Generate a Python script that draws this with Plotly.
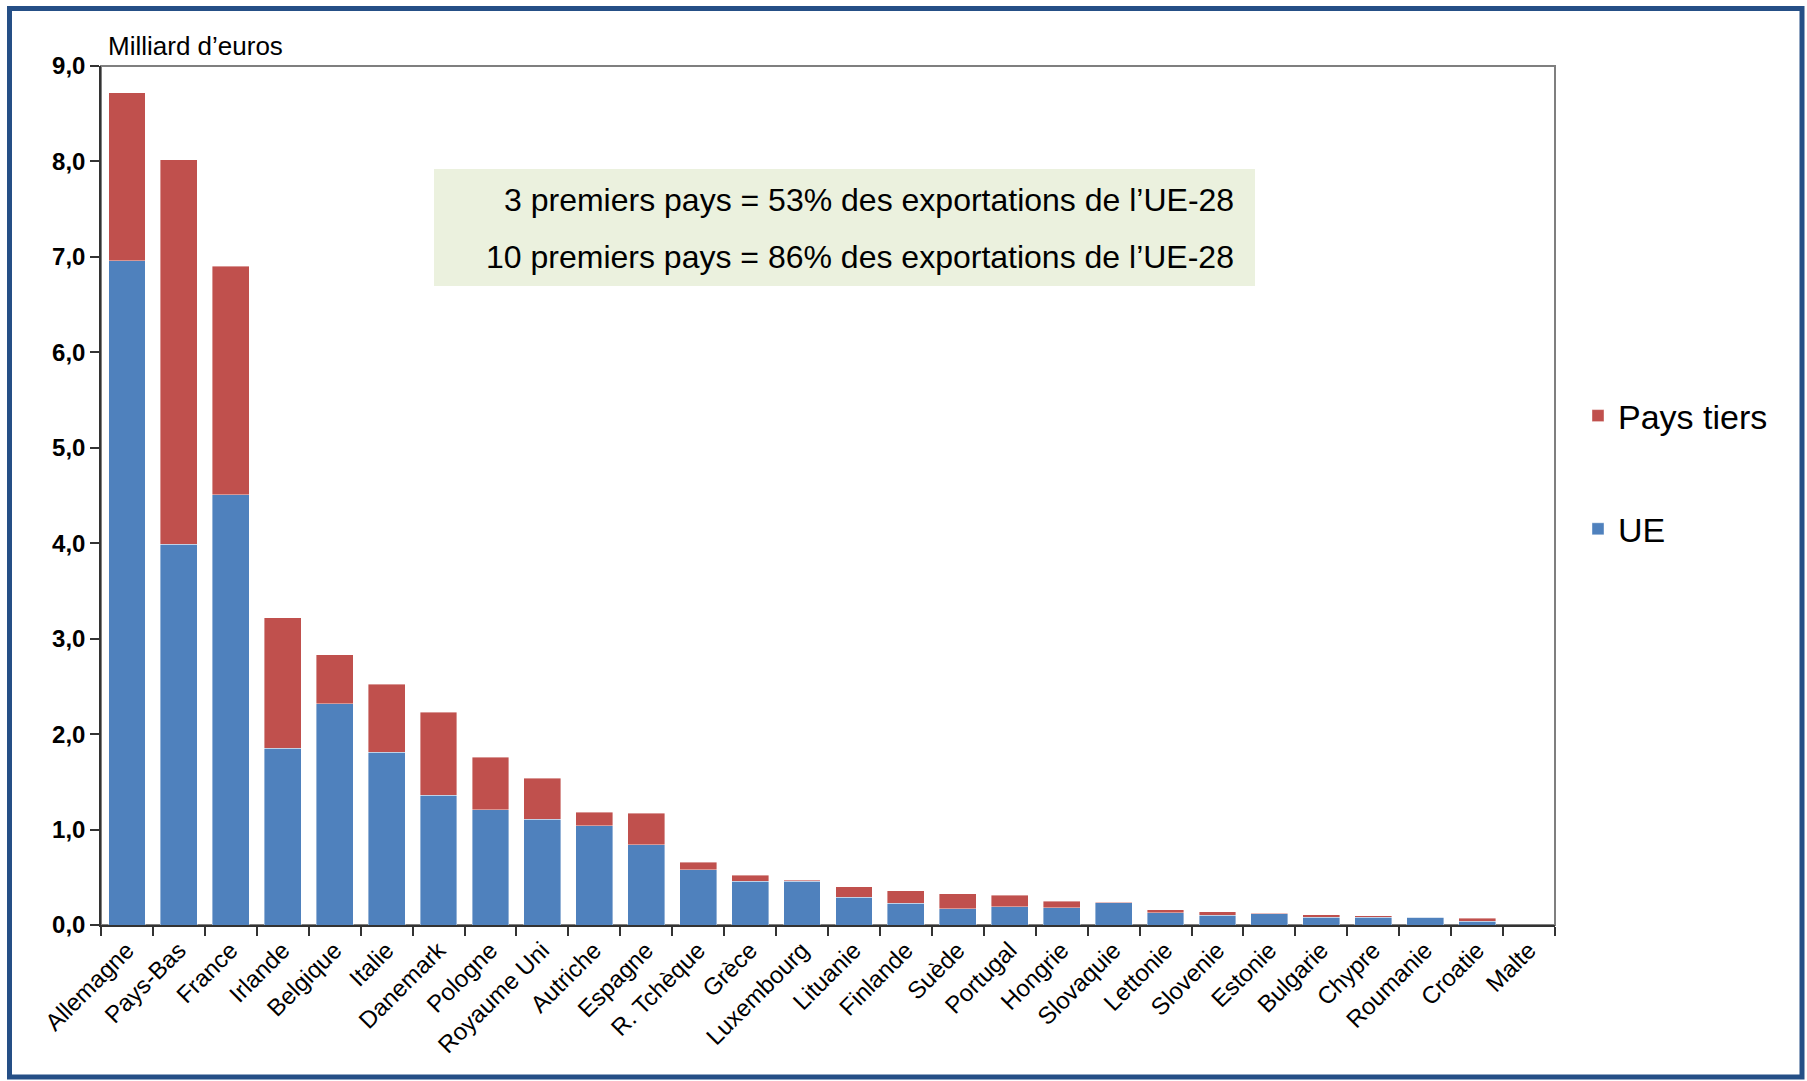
import plotly.graph_objects as go

countries = ["Allemagne", "Pays-Bas", "France", "Irlande", "Belgique", "Italie", "Danemark",
             "Pologne", "Royaume Uni", "Autriche", "Espagne", "R. Tchèque", "Grèce", "Luxembourg",
             "Lituanie", "Finlande", "Suède", "Portugal", "Hongrie", "Slovaquie", "Lettonie",
             "Slovenie", "Estonie", "Bulgarie", "Chypre", "Roumanie", "Croatie", "Malte"]
total = [8.72, 8.02, 6.90, 3.22, 2.83, 2.52, 2.23, 1.76, 1.54, 1.18, 1.17, 0.66, 0.52, 0.47,
         0.40, 0.36, 0.33, 0.31, 0.25, 0.24, 0.16, 0.14, 0.125, 0.105, 0.095, 0.083, 0.073, 0.0]
ue = [6.96, 3.99, 4.51, 1.85, 2.32, 1.81, 1.36, 1.21, 1.11, 1.04, 0.84, 0.58, 0.46, 0.46,
      0.29, 0.23, 0.17, 0.19, 0.18, 0.235, 0.13, 0.10, 0.12, 0.08, 0.08, 0.08, 0.04, 0.0]
tiers = [round(t - u, 3) for t, u in zip(total, ue)]

BLUE = "#4F81BD"
RED = "#C0504D"
FONT = "Arial, Liberation Sans, sans-serif"

W, H = 1807, 1081
L, R, T, B = 101, 1555, 66, 925


def px(x):
    return (x - L) / (R - L)


def py(y):
    return (B - y) / (B - T)


fig = go.Figure()
fig.add_trace(go.Bar(x=countries, y=ue, name="UE",
                     marker=dict(color=BLUE, line=dict(color="rgba(255,255,255,0.5)", width=0.8)),
                     legendgroup="ue", legendrank=2))
fig.add_trace(go.Bar(x=countries, y=tiers, name="Pays tiers",
                     marker=dict(color=RED, line=dict(color="rgba(255,255,255,0.5)", width=0.8)),
                     legendgroup="pt", legendrank=1))

fig.update_layout(
    width=W, height=H,
    margin=dict(l=L, r=W - R, t=T, b=H - B, pad=0),
    barmode="stack", bargap=0.29,
    plot_bgcolor="white", paper_bgcolor="white",
    separators=", ",
    font=dict(family=FONT, color="black"),
    legend=dict(x=px(1578), xanchor="left", y=py(387), yanchor="top",
                traceorder="grouped", tracegroupgap=66,
                font=dict(size=34, family=FONT), itemwidth=30,
                bgcolor="rgba(0,0,0,0)"),
    showlegend=True,
)

fig.update_yaxes(range=[0, 9], dtick=1, tickformat=".1f", showgrid=False, zeroline=False,
                 showline=True, linecolor="#333333", linewidth=1.5,
                 ticks="outside", ticklen=9, tickcolor="#333333", tickwidth=1.5,
                 tickfont=dict(size=24, family=FONT, weight="bold", color="black"))
fig.update_xaxes(showgrid=False, showline=True, linecolor="#333333", linewidth=1.5,
                 ticks="outside", tickson="boundaries", ticklen=9, tickcolor="#333333", tickwidth=1.5,
                 tickangle=-45, tickfont=dict(size=24, family=FONT, color="black"))

# plot frame (gray) and outer border
fig.add_shape(type="rect", xref="paper", yref="paper", x0=0, x1=1, y0=0, y1=1,
              line=dict(color="#7F7F7F", width=2), layer="below")
fig.add_shape(type="rect", xref="paper", yref="paper", x0=px(9.5), x1=px(1802), y0=py(8.5), y1=py(1077),
              line=dict(color="#254F86", width=5))

# text box
fig.add_shape(type="rect", xref="paper", yref="paper", x0=px(434), x1=px(1255), y0=py(286), y1=py(169),
              fillcolor="#EBF1DE", line=dict(width=0), layer="below")
fig.add_annotation(xref="paper", yref="paper", x=px(1236), y=py(200), xanchor="right", yanchor="middle",
                   text="3 premiers pays = 53% des exportations de l’UE-28", showarrow=False,
                   font=dict(size=32, family=FONT, color="black"))
fig.add_annotation(xref="paper", yref="paper", x=px(1236), y=py(257), xanchor="right", yanchor="middle",
                   text="10 premiers pays = 86% des exportations de l’UE-28", showarrow=False,
                   font=dict(size=32, family=FONT, color="black"))

fig.add_annotation(xref="paper", yref="paper", x=px(106), y=py(46), xanchor="left", yanchor="middle",
                   text="Milliard d’euros", showarrow=False, font=dict(size=26, family=FONT, color="black"))

fig.write_html("out.html", config={"displayModeBar": False},
               post_script="document.body.style.margin='0';document.body.style.overflow='hidden';")
